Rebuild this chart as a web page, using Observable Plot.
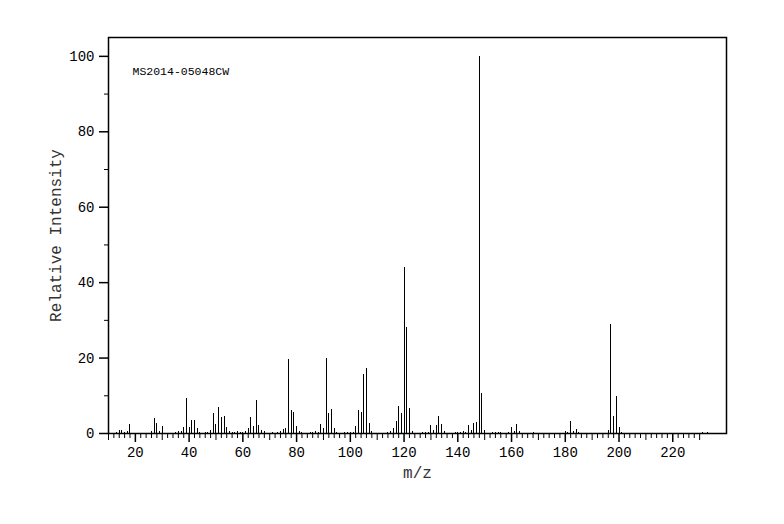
<!DOCTYPE html>
<html><head><meta charset="utf-8">
<script src="https://cdn.jsdelivr.net/npm/d3@7"></script>
<script src="https://cdn.jsdelivr.net/npm/@observablehq/plot@0.6"></script>
<style>body{margin:0;background:#fff}</style>
</head><body><div id="chart"></div>
<script>
const mz = [13,14,15,16,17,18,26,27,28,29,30,35,36,37,38,39,40,41,42,43,44,46,47,48,49,50,51,52,53,54,55,56,57,58,59,60,61,62,63,64,65,66,67,68,71,73,74,75,76,77,78,79,80,81,82,85,86,87,88,89,90,91,92,93,94,95,98,99,100,101,102,103,104,105,106,107,108,114,115,116,117,118,119,120,121,122,123,127,128,129,130,131,132,133,134,135,139,140,141,142,143,144,145,146,147,148,149,150,153,154,155,156,159,160,161,162,163,168,180,181,182,183,184,185,196,197,198,199,200,201,231,233];
const intensity = [0.3,0.9,0.9,0.35,0.6,2.5,0.6,4.0,2.7,0.6,1.9,0.35,0.6,0.6,1.5,9.4,1.5,3.5,3.35,1.2,0.35,0.3,0.3,0.7,5.4,2.5,7.0,4.3,4.6,1.7,0.6,0.35,0.35,0.6,0.35,0.3,0.6,1.4,4.3,1.9,8.8,2.1,0.9,0.6,0.35,0.3,0.6,1.0,1.3,19.7,6.2,5.6,1.9,0.6,0.3,0.35,0.35,0.6,0.35,2.5,1.4,19.9,5.4,6.4,1.4,0.35,0.35,0.35,0.35,0.35,1.9,6.2,5.6,15.7,17.3,2.7,0.6,0.35,0.5,1.4,3.3,7.1,5.4,44,28.2,6.5,0.5,0.35,0.35,0.35,2.2,0.9,2.2,4.6,2.5,0.5,0.35,0.35,0.35,0.6,0.35,2.2,0.9,2.7,3.0,100,10.5,0.9,0.35,0.35,0.35,0.35,0.35,1.7,0.6,2.5,0.6,0.35,0.6,0.35,3.3,0.6,1.1,0.35,0.8,28.9,4.5,9.8,1.6,0.3,0.3,0.3];
const xLabelTicks = [20,40,60,80,100,120,140,160,180,200,220];
const xMidTicks = [10,30,50,70,90,110,130,150,170,190,210,230];
const yLabelTicks = [0,20,40,60,80,100];
const yMidTicks = [10,30,50,70,90];
const sampleId = "MS2014-05048CW";
const xTitle = "m/z";
const yTitle = "Relative Intensity";

const peaks = mz.map((m, i) => ({mz: m, intensity: intensity[i]}));
const xMinorTicks = d3.range(10, 231, 2).filter(v => v % 10 !== 0);

const chart = Plot.plot({
  width: 784,
  height: 524,
  marginLeft: 108,
  marginRight: 58,
  marginTop: 37,
  marginBottom: 91,
  style: {fontFamily: "'Liberation Mono', monospace", fontSize: "14px", color: "#000", background: "#fff"},
  x: {domain: [10, 240], label: null},
  y: {domain: [0, 105], label: null},
  marks: [
    Plot.ruleX(peaks, {x: "mz", y1: 0, y2: "intensity", stroke: "#000", strokeWidth: 1, shapeRendering: "crispEdges"}),
    Plot.axisX(xMinorTicks, {tickSize: 5, text: null, label: null, strokeWidth: 1}),
    Plot.axisX(xMidTicks, {tickSize: 7, text: null, label: null, strokeWidth: 1}),
    Plot.axisX(xLabelTicks, {tickSize: 9, tickPadding: 5, label: null, strokeWidth: 1.5}),
    Plot.axisY(yMidTicks, {tickSize: 4, text: null, label: null, strokeWidth: 1}),
    Plot.axisY(yLabelTicks, {tickSize: 9, tickPadding: 5, label: null, strokeWidth: 1.5}),
    Plot.frame({stroke: "#000", strokeWidth: 1.5}),
    Plot.text([yTitle], {frameAnchor: "left", textAnchor: "middle", dx: -53, rotate: -90, fontSize: 16, fill: "#333"}),
    Plot.text([xTitle], {frameAnchor: "bottom", textAnchor: "middle", dy: 44, fontSize: 16, fill: "#333"}),
    Plot.text([sampleId], {frameAnchor: "top-left", textAnchor: "start", lineAnchor: "middle", dx: 24, dy: 34, fontSize: 11.5, fill: "#000"})
  ]
});
document.getElementById("chart").appendChild(chart);
</script>
</body></html>
